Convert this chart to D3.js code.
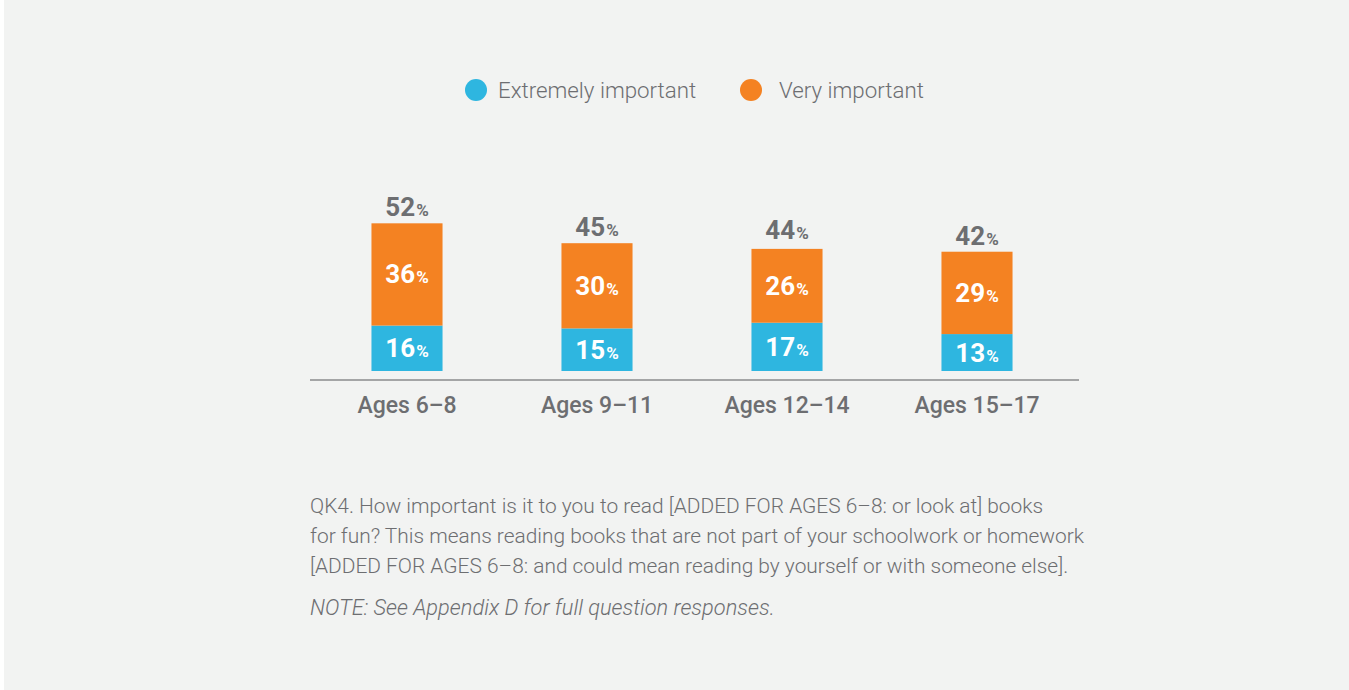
<!DOCTYPE html>
<html>
<head>
<meta charset="utf-8">
<script src="https://cdn.jsdelivr.net/npm/d3@7"></script>
<style>
  html, body { margin: 0; padding: 0; background: #fff; }
  svg { display: block; }
  text { font-family: "Roboto", "Liberation Sans", sans-serif; }
</style>
</head>
<body>
<div id="app"></div>
<script>
const categories = ['Ages 6–8', 'Ages 9–11', 'Ages 12–14', 'Ages 15–17']
const extremely = [16, 15, 17, 13]
const very = [36, 30, 26, 29]
const totals = [52, 45, 44, 42]
const seriesNames = ['Extremely important', 'Very important']
const colors = ['#2eb6e0', '#f48222']
const footLines = [
  'QK4. How important is it to you to read [ADDED FOR AGES 6–8: or look at] books',
  'for fun? This means reading books that are not part of your schoolwork or homework',
  '[ADDED FOR AGES 6–8: and could mean reading by yourself or with someone else].'
]
const note = 'NOTE: See Appendix D for full question responses.'

const W = 1349, H = 690
const grey = '#6d6e71'

const svg = d3.select('#app')
  .append('svg')
    .attr('width', W)
    .attr('height', H)

// panel background
svg.append('rect')
  .attr('x', 4).attr('y', 0)
  .attr('width', W - 4).attr('height', H)
  .attr('fill', '#f2f3f2')

// scales
const xScale = d3.scaleBand()
  .domain(categories)
  .range([312, 1072])
  .paddingInner(0.626)
  .paddingOuter(0.313)

const baseY = 371
const yScale = d3.scaleLinear()
  .domain([0, 100])
  .range([baseY, baseY - 284])

// stacked data
const rows = categories.map((c, i) => ({ cat: c, e: extremely[i], v: very[i], t: totals[i] }))
const stack = d3.stack().keys(['e', 'v'])(rows)

const layers = svg.selectAll('.layer')
  .data(stack)
  .join('g')
    .attr('class', 'layer')
    .attr('fill', (d, i) => colors[i])

layers.selectAll('rect')
  .data(d => d)
  .join('rect')
    .attr('x', d => xScale(d.data.cat))
    .attr('y', d => yScale(d[1]))
    .attr('width', xScale.bandwidth())
    .attr('height', d => yScale(d[0]) - yScale(d[1]))

// value labels with smaller % sign
function pctLabel(sel, big, small) {
  sel.append('tspan').attr('font-size', big).text(d => d.val)
  sel.append('tspan').attr('font-size', small).attr('dx', 1).text('%')
}

layers.each(function(layer) {
  const g = d3.select(this)
  const lbl = g.selectAll('text')
    .data(layer.map(d => ({ cat: d.data.cat, val: d[1] - d[0], mid: (d[0] + d[1]) / 2 })))
    .join('text')
      .attr('x', d => xScale(d.cat) + xScale.bandwidth() / 2)
      .attr('y', d => yScale(d.mid) + 9)
      .attr('text-anchor', 'middle')
      .attr('fill', '#fff')
      .attr('font-weight', 'bold')
  pctLabel(lbl, 26, 17)
})

const totalLbl = svg.selectAll('.total')
  .data(rows.map(d => ({ cat: d.cat, val: d.t })))
  .join('text')
    .attr('class', 'total')
    .attr('x', d => xScale(d.cat) + xScale.bandwidth() / 2)
    .attr('y', d => yScale(d.val) - 7)
    .attr('text-anchor', 'middle')
    .attr('fill', grey)
    .attr('font-weight', 'bold')
pctLabel(totalLbl, 26, 17)

// x axis
const xAxis = svg.append('g')
  .attr('transform', `translate(0, ${baseY + 9})`)
  .call(d3.axisBottom(xScale).tickSize(0).tickPadding(17))
xAxis.select('.domain').remove()
xAxis.selectAll('text')
  .attr('font-size', 23)
  .attr('fill', grey)
  .attr('font-weight', 500)
  .style('font-family', 'Roboto, sans-serif')
svg.append('line')
  .attr('x1', 310).attr('x2', 1079)
  .attr('y1', baseY + 9).attr('y2', baseY + 9)
  .attr('stroke', '#8a8b8d')
  .attr('stroke-width', 1.5)

// legend
const legendX = [476, 751]
const legend = svg.selectAll('.legend')
  .data(seriesNames)
  .join('g')
    .attr('class', 'legend')
    .attr('transform', (d, i) => `translate(${legendX[i]}, 90)`)
legend.append('circle')
  .attr('r', 11)
  .attr('fill', (d, i) => colors[i])
legend.append('text')
  .attr('x', (d, i) => i === 0 ? 22 : 28)
  .attr('y', 8)
  .attr('font-size', 22.3)
  .attr('font-weight', 300)
  .attr('fill', grey)
  .text(d => d)

// footnote
svg.selectAll('.foot')
  .data(footLines)
  .join('text')
    .attr('class', 'foot')
    .attr('x', 310)
    .attr('y', (d, i) => 513 + i * 30)
    .attr('font-size', 20.9)
    .attr('font-weight', 300)
    .attr('fill', grey)
    .text(d => d)
svg.append('text')
  .attr('x', 310)
  .attr('y', 615)
  .attr('font-size', 21.8)
  .attr('font-weight', 300)
  .attr('font-style', 'italic')
  .attr('fill', grey)
  .text(note)
</script>
</body>
</html>
